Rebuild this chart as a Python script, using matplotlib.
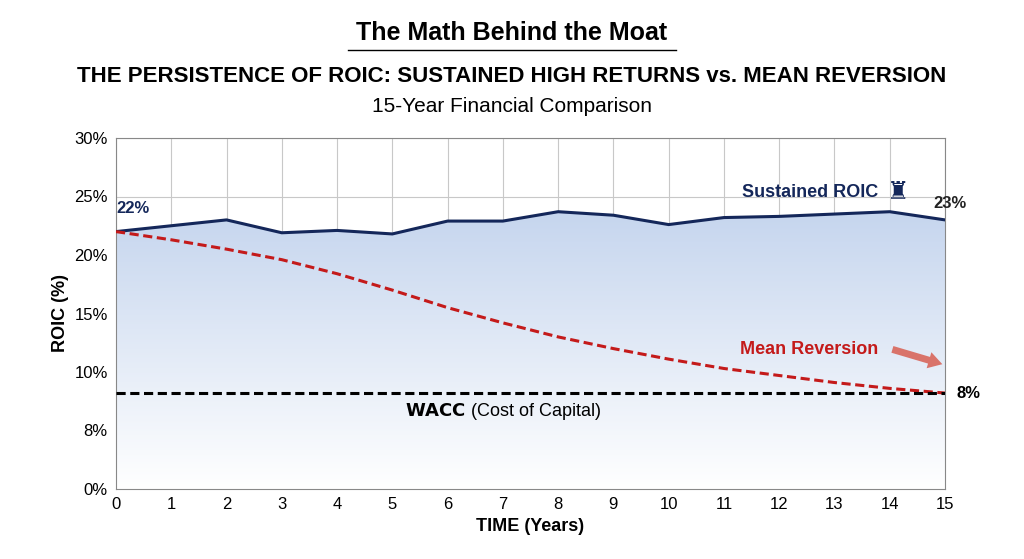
import matplotlib.pyplot as plt
import numpy as np
from matplotlib.colors import LinearSegmentedColormap

plt.rcParams['font.family'] = ['Liberation Sans', 'DejaVu Sans']

years = np.arange(16)
sustained = [22, 22.5, 23, 21.9, 22.1, 21.8, 22.9, 22.9, 23.7, 23.4, 22.6, 23.2, 23.3, 23.5, 23.7, 23.0]
reversion = [22, 21.3, 20.5, 19.6, 18.4, 17.0, 15.5, 14.2, 13.0, 12.0, 11.1, 10.3, 9.7, 9.1, 8.6, 8.2]
wacc = 8.2
ytick_vals = [0, 5, 10, 15, 20, 25, 30]
ytick_labels = ['0%', '8%', '10%', '15%', '20%', '25%', '30%']

navy = '#14275a'
red = '#c41a1a'

fig = plt.figure(figsize=(10.24, 5.59), dpi=100)
ax = fig.add_axes([116/1024, 1-489/559, (945-116)/1024, (489-138)/559])

# gradient fill under sustained line
grad = np.linspace(0.0, 1.0, 256).reshape(-1, 1)
cmap = LinearSegmentedColormap.from_list('b', ['#ffffff', '#c5d5ee'])
im = ax.imshow(grad, extent=[0, 15, 0, 24], aspect='auto', cmap=cmap, origin='lower', zorder=1)
poly = ax.fill_between(years, sustained, 0, color='none')
im.set_clip_path(poly.get_paths()[0], transform=ax.transData)

ax.plot(years, sustained, color=navy, lw=2.2, zorder=4)
ax.plot(years, reversion, color=red, lw=2.2, ls=(0, (3, 1.5)), zorder=4)
ax.axhline(wacc, color='black', lw=2.2, ls=(0, (3, 1.5)), zorder=4)

ax.set_xlim(0, 15)
ax.set_ylim(0, 30)
ax.set_xticks(years)
ax.set_yticks(ytick_vals)
ax.set_yticklabels(ytick_labels)
ax.grid(color='#c8c8c8', lw=0.8, zorder=0)
ax.set_axisbelow(True)
ax.tick_params(labelsize=12, length=0, pad=6)
for s in ax.spines.values():
    s.set_color('#888888')
ax.set_xlabel('TIME (Years)', fontsize=13, fontweight='bold')
ax.set_ylabel('ROIC (%)', fontsize=13, fontweight='bold')

ax.text(0.0, 23.3, '22%', color=navy, fontsize=12, fontweight='bold', va='bottom')
ax.text(15.4, 23.8, '23%', color='#222222', fontsize=12, fontweight='bold', ha='right', va='bottom')
ax.text(13.8, 25.3, 'Sustained ROIC', color=navy, fontsize=13, fontweight='bold', ha='right', va='center')
ax.text(13.95, 25.4, '\u265c', color=navy, fontsize=18, ha='left', va='center', family='DejaVu Sans')
ax.text(13.8, 11.9, 'Mean Reversion', color=red, fontsize=13, fontweight='bold', ha='right', va='center')
ax.annotate('', xy=(15.0, 10.6), xytext=(14.0, 12.0),
            arrowprops=dict(arrowstyle='simple,head_width=1.2,head_length=1.0,tail_width=0.5',
                            color='#d9736a', lw=0))
ax.text(15.2, wacc, '8%', fontsize=12, fontweight='bold', va='center', clip_on=False)
ax.text(7.0, 6.6, '$\\bf{WACC}$ (Cost of Capital)', fontsize=13, ha='center', va='center')

fig.text(0.5, 1-33/559, 'The Math Behind the Moat', fontsize=18, fontweight='bold', ha='center', va='center')
fig.add_artist(plt.Line2D([348/1024, 676/1024], [1-50/559, 1-50/559], color='black', lw=1))
fig.text(0.5, 1-77/559, 'THE PERSISTENCE OF ROIC: SUSTAINED HIGH RETURNS vs. MEAN REVERSION',
         fontsize=16, fontweight='bold', ha='center', va='center')
fig.text(0.5, 1-107/559, '15-Year Financial Comparison', fontsize=15, ha='center', va='center')

plt.savefig('out.png', dpi=100)
